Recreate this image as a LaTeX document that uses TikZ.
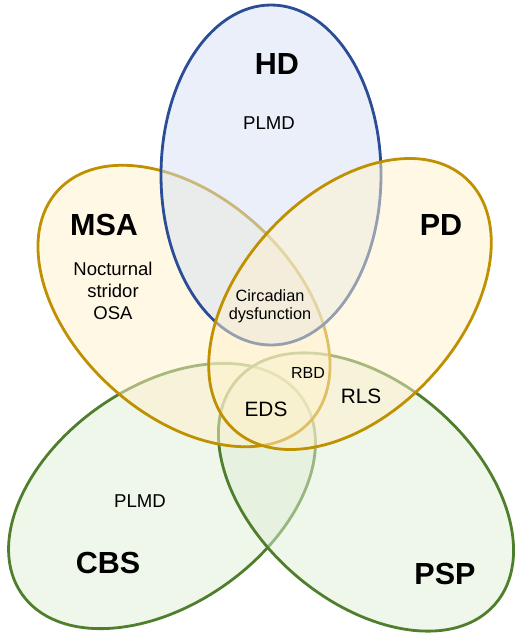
\documentclass[tikz,border=0pt]{standalone}
\usepackage{fontspec}
\setmainfont{Liberation Sans}
\definecolor{hdline}{HTML}{2A4D96}
\definecolor{hdfill}{HTML}{D5DFF3}
\definecolor{goldline}{HTML}{BF9000}
\definecolor{goldfill}{HTML}{FFF1CB}
\definecolor{grline}{HTML}{4F7F2C}
\definecolor{grfill}{HTML}{DFEDD5}
\tikzset{
  setshape/.style={line width=2.8pt, fill opacity=0.5},
  title/.style={font=\bfseries\fontsize{30.5}{31}\selectfont, inner sep=0pt},
  item/.style={font=\fontsize{18.6}{18.6}\selectfont, inner sep=0pt, align=center},
  bigitem/.style={font=\fontsize{20.8}{21}\selectfont, inner sep=0pt},
  smallitem/.style={font=\fontsize{16.3}{18}\selectfont, inner sep=0pt, align=center},
}
\begin{document}
\begin{tikzpicture}[x=1pt,y=-1pt]
\useasboundingbox (0,0) rectangle (519,638);
% CBS
\path[setshape, draw=grline, fill=grfill, rotate around={35:(162,496)}] (162,496) ellipse [x radius=171pt, y radius=109pt];
% PSP
\path[setshape, draw=grline, fill=grfill, rotate around={-41:(366,492)}] (366,492) ellipse [x radius=171pt, y radius=109pt];
% MSA
\path[setshape, draw=goldline, fill=goldfill, rotate around={137.5:(184,306)}] (184,306) ellipse [x radius=171pt, y radius=109pt];
% HD
\path[setshape, draw=hdline, fill=hdfill, rotate around={90:(271,175)}] (271,175) ellipse [x radius=170pt, y radius=110pt];
% PD
\path[setshape, draw=goldline, fill=goldfill, rotate around={47:(350,304)}] (350,304) ellipse [x radius=171pt, y radius=109pt];

\node[title] (hd) at (277,64) {HD};
\node[title] (msa) at (104,225) {MSA};
\node[title] (pd) at (441,225) {PD};
\node[title] (cbs) at (108,563) {CBS};
\node[title] (psp) at (445,574) {PSP};

\node[item] (plmd1) at (269,123) {PLMD};
\node[item] (plmd2) at (140,501) {PLMD};
\node[smallitem] (circ) at (270,306) {Circadian\\dysfunction};
\node[font=\fontsize{18.5}{22}\selectfont, inner sep=0pt, align=center] (noct) at (113,291) {Nocturnal\\stridor\\OSA};
\node[font=\fontsize{16}{16}\selectfont, inner sep=0pt] (rbd) at (308,373) {RBD};
\node[bigitem] (rls) at (361,396) {RLS};
\node[bigitem] (eds) at (266,409) {EDS};
\end{tikzpicture}
\end{document}
